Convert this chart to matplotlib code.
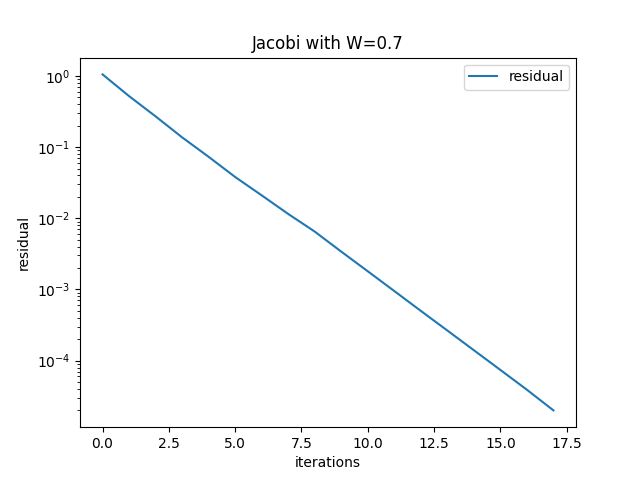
import matplotlib
matplotlib.use("Agg")
import matplotlib.pyplot as plt

iterations = list(range(18))
residual = [1.05, 0.52, 0.27, 0.137, 0.073, 0.038, 0.021, 0.0115, 0.0065,
            3.4e-3, 1.8e-3, 9.5e-4, 5.0e-4, 2.65e-4, 1.4e-4, 7.4e-5, 3.9e-5, 2.0e-5]

fig = plt.figure(figsize=(6.4, 4.8), dpi=100)
plt.semilogy(iterations, residual, label="residual")
plt.xlabel("iterations")
plt.ylabel("residual")
plt.title("Jacobi with W=0.7")
plt.legend()
plt.savefig("out.png", dpi=100)
